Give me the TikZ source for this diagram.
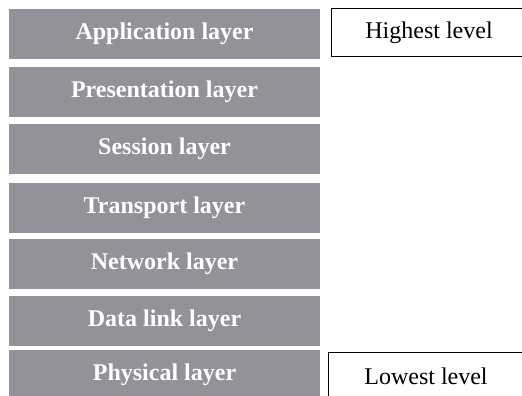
\documentclass[tikz,border=0pt]{standalone}
\usepackage{fontspec}
\setmainfont{Liberation Serif}
\usepackage{xcolor}
\definecolor{layergray}{RGB}{147,146,152}

\begin{document}
\begin{tikzpicture}[
  x=1pt, y=-1pt,
  layer/.style={fill=layergray, draw=none, minimum width=311pt, minimum height=50pt, inner sep=0pt, text=white, font=\fontsize{24}{27}\selectfont\bfseries},
  level/.style={draw=black, line width=1pt, fill=white, minimum width=196pt, minimum height=48pt, inner sep=0pt, font=\fontsize{24}{27}\selectfont}
]
\useasboundingbox (0,0) rectangle (522,396);
\clip (0,0) rectangle (522,396);
\node[layer] (app) at (164.5,34) {Application layer};
\node[layer] (pres) at (164.5,92) {Presentation layer};
\node[layer] (sess) at (164.5,149) {Session layer};
\node[layer] (trans) at (164.5,208) {Transport layer};
\node[layer] (net) at (164.5,264) {Network layer};
\node[layer] (link) at (164.5,321) {Data link layer};
\node[layer] (phys) at (164.5,375) {Physical layer};
\node[level] (high) at (429,33) {Highest level};
\node[level] (low) at (426,376) {Lowest level};
\end{tikzpicture}
\end{document}
